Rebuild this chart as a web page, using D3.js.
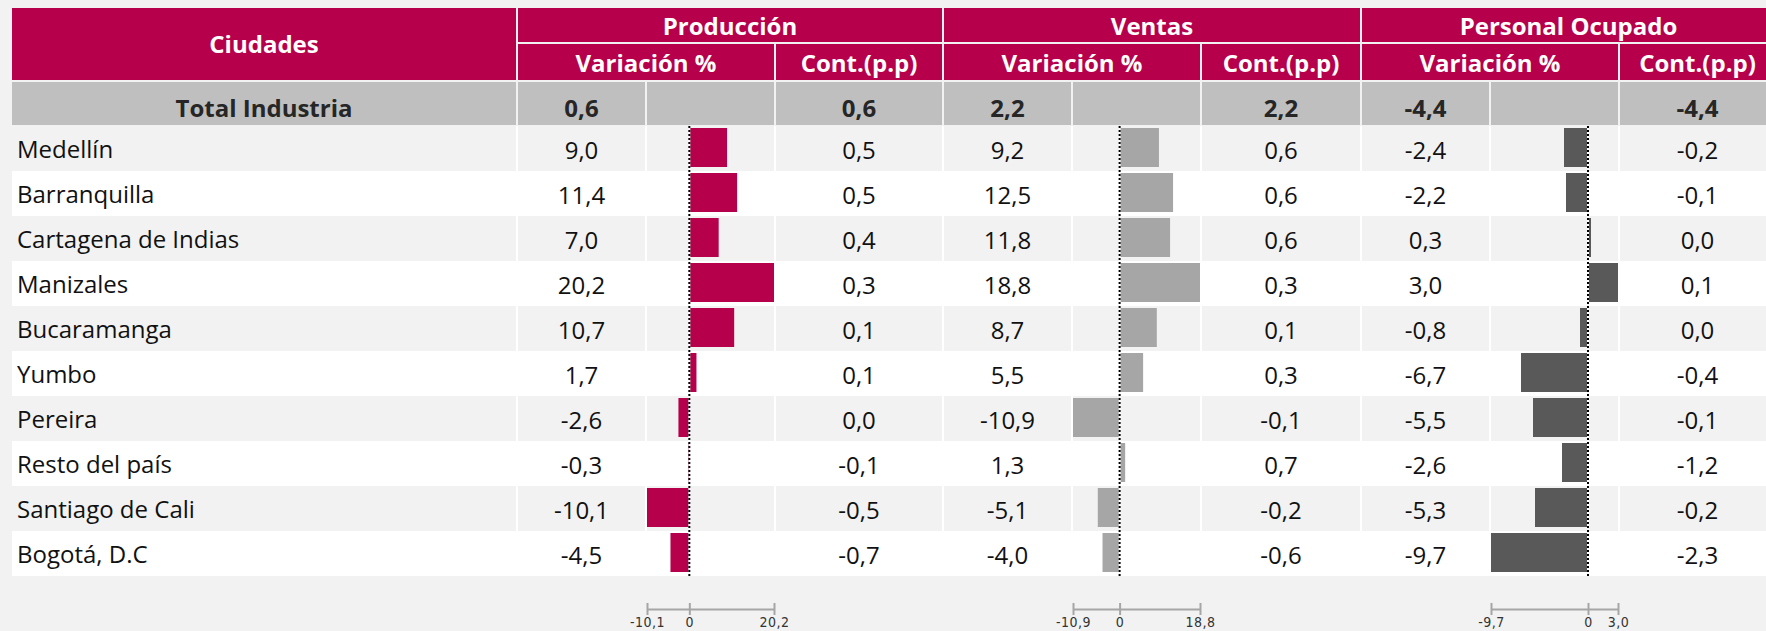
<!DOCTYPE html>
<html>
<head>
<meta charset="utf-8">
<script src="https://cdn.jsdelivr.net/npm/d3@7"></script>
<style>
  body { margin: 0; background: #f2f2f2; overflow: hidden; }
</style>
</head>
<body>
<div id="container"></div>
<script>
const cities = ["Medellín", "Barranquilla", "Cartagena de Indias", "Manizales", "Bucaramanga",
  "Yumbo", "Pereira", "Resto del país", "Santiago de Cali", "Bogotá, D.C"]
const produccionVar = [9.0, 11.4, 7.0, 20.2, 10.7, 1.7, -2.6, -0.3, -10.1, -4.5]
const produccionCont = [0.5, 0.5, 0.4, 0.3, 0.1, 0.1, 0.0, -0.1, -0.5, -0.7]
const ventasVar = [9.2, 12.5, 11.8, 18.8, 8.7, 5.5, -10.9, 1.3, -5.1, -4.0]
const ventasCont = [0.6, 0.6, 0.6, 0.3, 0.1, 0.3, -0.1, 0.7, -0.2, -0.6]
const personalVar = [-2.4, -2.2, 0.3, 3.0, -0.8, -6.7, -5.5, -2.6, -5.3, -9.7]
const personalCont = [-0.2, -0.1, 0.0, 0.1, 0.0, -0.4, -0.1, -1.2, -0.2, -2.3]
const totalLabel = "Total Industria"
const totalVar = [0.6, 2.2, -4.4]
const totalCont = [0.6, 2.2, -4.4]
const groupNames = ["Producción", "Ventas", "Personal Ocupado"]
const subHeaders = ["Variación %", "Cont.(p.p)"]
const firstHeader = "Ciudades"

const variations = [produccionVar, ventasVar, personalVar]
const contributions = [produccionCont, ventasCont, personalCont]

// layout + style
const width = 1766
const height = 631
const headerColor = "#b7004b"
const barColors = ["#b7004b", "#a6a6a6", "#595959"]
const totalFill = "#bfbfbf"
const stripeFill = "#f2f2f2"
const textColor = "#111"
const font = "'Open Sans', 'Noto Sans', sans-serif"
const top1 = 8, bottom1 = 42, top2 = 44, bottom2 = 80
const totalTop = 82, totalBottom = 125
const rowsTop = 126, rowH = 45
const nameCol = [12, 516]
const cols = [
  { val: [518, 645], bar: [647, 774], cont: [776, 942] },
  { val: [944, 1071], bar: [1073, 1200], cont: [1202, 1360] },
  { val: [1362, 1489], bar: [1491, 1618], cont: [1620, 1775] }
]
const rowsBottom = rowsTop + rowH * cities.length
const axisY = 609

const locale = d3.formatLocale({ decimal: ",", thousands: ".", grouping: [3], currency: ["$", ""], minus: "-" })
const f1 = locale.format(".1f")

const svg = d3.select("#container").append("svg").attr("width", width).attr("height", height)

function cellRect(x0, x1, y0, y1, fill) {
  svg.append("rect").attr("x", x0).attr("y", y0)
    .attr("width", x1 - x0).attr("height", y1 - y0).attr("fill", fill)
}

function cellText(txt, cx, baseline, opts) {
  svg.append("text")
    .attr("x", cx).attr("y", baseline)
    .attr("text-anchor", opts.anchor || "middle")
    .attr("font-family", font)
    .attr("font-size", opts.size || 24)
    .attr("font-weight", opts.bold ? 700 : 400)
    .attr("fill", opts.color || textColor)
    .text(txt)
}
const mid = r => (r[0] + r[1]) / 2

// header
cellRect(nameCol[0], nameCol[1], top1, bottom2, headerColor)
cellText(firstHeader, mid(nameCol), 53, { bold: true, color: "#fff" })
cols.forEach((c, g) => {
  cellRect(c.val[0], c.cont[1], top1, bottom1, headerColor)
  cellText(groupNames[g], (c.val[0] + c.cont[1]) / 2, 35, { bold: true, color: "#fff" })
  cellRect(c.val[0], c.bar[1], top2, bottom2, headerColor)
  cellText(subHeaders[0], (c.val[0] + c.bar[1]) / 2, 72, { bold: true, color: "#fff" })
  cellRect(c.cont[0], c.cont[1], top2, bottom2, headerColor)
  cellText(subHeaders[1], mid(c.cont), 72, { bold: true, color: "#fff" })
})

// total row
cellRect(nameCol[0], nameCol[1], totalTop, totalBottom, totalFill)
cellText(totalLabel, mid(nameCol), 117, { bold: true, color: "#262626" })
cols.forEach((c, g) => {
  cellRect(c.val[0], c.val[1], totalTop, totalBottom, totalFill)
  cellRect(c.bar[0], c.bar[1], totalTop, totalBottom, totalFill)
  cellRect(c.cont[0], c.cont[1], totalTop, totalBottom, totalFill)
  cellText(f1(totalVar[g]), mid(c.val), 117, { bold: true, color: "#262626" })
  cellText(f1(totalCont[g]), mid(c.cont), 117, { bold: true, color: "#262626" })
})

// body rows
const y = d3.scaleBand().domain(cities).range([rowsTop, rowsBottom])

cellRect(nameCol[0], cols[2].cont[1], rowsTop, rowsBottom, "#fff")
cities.forEach((city, i) => {
  const r0 = y(city), r1 = y(city) + y.bandwidth()
  if (i % 2 == 0) {
    cellRect(nameCol[0], nameCol[1], r0, r1, stripeFill)
    cols.forEach(c => {
      cellRect(c.val[0], c.val[1], r0, r1, stripeFill)
      cellRect(c.bar[0], c.bar[1], r0, r1, stripeFill)
      cellRect(c.cont[0], c.cont[1], r0, r1, stripeFill)
    })
  }
  cellText(city, 17, r0 + 32, { anchor: "start" })
  cols.forEach((c, g) => {
    cellText(f1(variations[g][i]), mid(c.val), r0 + 33, {})
    cellText(f1(contributions[g][i]), mid(c.cont), r0 + 33, {})
  })
})

// bars, zero lines and axes
cols.forEach((c, g) => {
  const vals = variations[g]
  const x = d3.scaleLinear().domain([d3.min(vals), d3.max(vals)]).range(c.bar)

  svg.append("g").selectAll("rect")
    .data(vals)
    .enter().append("rect")
    .attr("x", d => x(Math.min(0, d)))
    .attr("y", (d, i) => y(cities[i]) + 2)
    .attr("width", d => Math.abs(x(d) - x(0)))
    .attr("height", y.bandwidth() - 6)
    .attr("fill", barColors[g])

  svg.append("line")
    .attr("x1", x(0)).attr("x2", x(0))
    .attr("y1", rowsTop).attr("y2", rowsBottom)
    .attr("stroke", "#fff").attr("stroke-width", 2)
  svg.append("line")
    .attr("x1", x(0)).attr("x2", x(0))
    .attr("y1", rowsTop).attr("y2", rowsBottom)
    .attr("stroke", "#000").attr("stroke-width", 2)
    .attr("stroke-dasharray", "2,2")

  const axis = svg.append("g")
    .attr("transform", `translate(0,${axisY})`)
    .call(d3.axisBottom(x)
      .tickValues([d3.min(vals), 0, d3.max(vals)])
      .tickFormat(d => d === 0 ? "0" : f1(d))
      .tickSize(6)
      .tickSizeOuter(0))
  axis.select(".domain").attr("stroke", "#a6a6a6").attr("stroke-width", 2)
  axis.selectAll(".tick line").attr("y1", -6).attr("y2", 6)
    .attr("stroke", "#a6a6a6").attr("stroke-width", 2)
  axis.selectAll(".tick text")
    .attr("y", 18).attr("dy", null)
    .attr("font-family", "'DejaVu Sans Condensed', 'Liberation Sans Narrow', sans-serif")
    .attr("font-size", 14)
    .attr("letter-spacing", 0.5)
    .attr("fill", "#333")
})
</script>
</body>
</html>
